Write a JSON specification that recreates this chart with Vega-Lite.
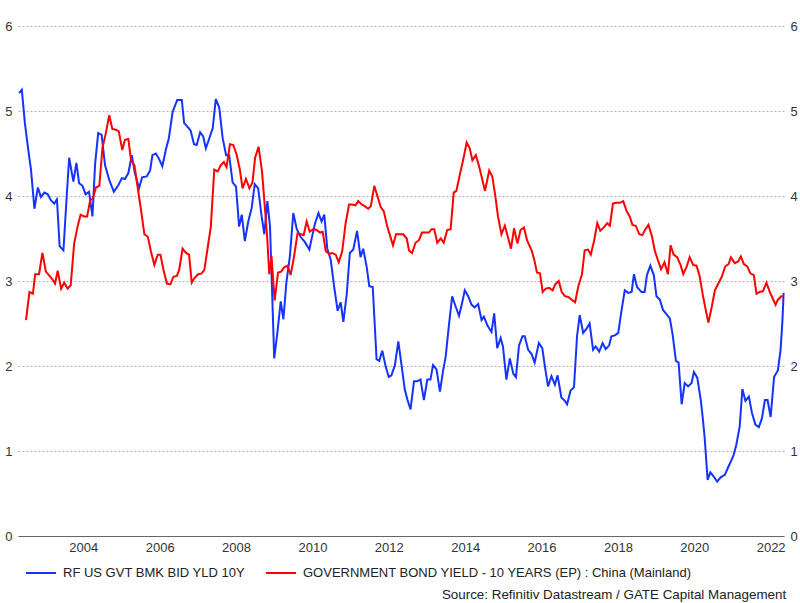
{
  "$schema": "https://vega.github.io/schema/vega-lite/v6.json",
  "width": 766,
  "height": 510,
  "autosize": {"type": "none"},
  "padding": {"left": 18, "top": 26, "right": 16, "bottom": 67},
  "background": "white",
  "config": {
    "view": {"stroke": null},
    "font": "Liberation Sans",
    "axis": {"labelFont": "Liberation Sans", "labelFontSize": 13, "labelColor": "#333333", "ticks": false, "title": null}
  },
  "title": {"text": "Source: Refinitiv Datastream / GATE Capital Management", "orient": "bottom", "anchor": "end", "fontSize": 13.4, "fontWeight": "normal", "color": "#222222", "font": "Liberation Sans", "offset": 8, "dx": -11},
  "datasets": {
    "us": [
      {"t":2002.32,"v":5.21},{"t":2002.39,"v":5.25},{"t":2002.47,"v":4.86},{"t":2002.56,"v":4.54},{"t":2002.63,"v":4.31},{"t":2002.72,"v":3.85},{"t":2002.81,"v":4.10},{"t":2002.89,"v":3.99},{"t":2002.98,"v":4.04},{"t":2003.07,"v":4.02},{"t":2003.15,"v":3.95},{"t":2003.24,"v":3.91},{"t":2003.31,"v":3.96},{"t":2003.38,"v":3.41},{"t":2003.48,"v":3.36},{"t":2003.57,"v":4.03},{"t":2003.63,"v":4.45},{"t":2003.74,"v":4.17},{"t":2003.82,"v":4.39},{"t":2003.89,"v":4.15},{"t":2003.98,"v":4.12},
      {"t":2004.06,"v":4.02},{"t":2004.15,"v":4.05},{"t":2004.24,"v":3.76},{"t":2004.31,"v":4.38},{"t":2004.39,"v":4.74},{"t":2004.48,"v":4.72},{"t":2004.57,"v":4.36},{"t":2004.68,"v":4.19},{"t":2004.80,"v":4.05},{"t":2004.92,"v":4.13},
      {"t":2005.01,"v":4.21},{"t":2005.09,"v":4.20},{"t":2005.18,"v":4.27},{"t":2005.27,"v":4.48},{"t":2005.35,"v":4.27},{"t":2005.46,"v":4.09},{"t":2005.54,"v":4.22},{"t":2005.66,"v":4.23},{"t":2005.75,"v":4.30},{"t":2005.81,"v":4.48},{"t":2005.90,"v":4.50},{"t":2005.98,"v":4.44},
      {"t":2006.07,"v":4.35},{"t":2006.16,"v":4.54},{"t":2006.24,"v":4.68},{"t":2006.34,"v":4.99},{"t":2006.46,"v":5.13},{"t":2006.58,"v":5.13},{"t":2006.64,"v":4.86},{"t":2006.72,"v":4.82},{"t":2006.81,"v":4.77},{"t":2006.90,"v":4.61},{"t":2006.97,"v":4.60},
      {"t":2007.06,"v":4.75},{"t":2007.14,"v":4.70},{"t":2007.21,"v":4.56},{"t":2007.30,"v":4.68},{"t":2007.39,"v":4.80},{"t":2007.47,"v":5.14},{"t":2007.56,"v":5.04},{"t":2007.65,"v":4.68},{"t":2007.74,"v":4.48},{"t":2007.82,"v":4.48},{"t":2007.91,"v":4.16},{"t":2008.00,"v":4.11},
      {"t":2008.08,"v":3.64},{"t":2008.15,"v":3.78},{"t":2008.23,"v":3.47},{"t":2008.32,"v":3.70},{"t":2008.41,"v":3.86},{"t":2008.49,"v":4.14},{"t":2008.58,"v":4.09},{"t":2008.67,"v":3.76},{"t":2008.74,"v":3.55},{"t":2008.82,"v":3.94},{"t":2008.89,"v":3.64},
      {"t":2009.00,"v":2.09},{"t":2009.08,"v":2.38},{"t":2009.17,"v":2.76},{"t":2009.24,"v":2.55},{"t":2009.32,"v":2.99},{"t":2009.41,"v":3.29},{"t":2009.50,"v":3.80},{"t":2009.59,"v":3.61},{"t":2009.69,"v":3.52},{"t":2009.80,"v":3.46},{"t":2009.92,"v":3.37},
      {"t":2010.01,"v":3.56},{"t":2010.07,"v":3.68},{"t":2010.16,"v":3.80},{"t":2010.24,"v":3.70},{"t":2010.31,"v":3.78},{"t":2010.39,"v":3.38},{"t":2010.48,"v":3.25},{"t":2010.57,"v":2.93},{"t":2010.66,"v":2.65},{"t":2010.74,"v":2.75},{"t":2010.81,"v":2.52},{"t":2010.90,"v":2.85},{"t":2010.98,"v":3.33},
      {"t":2011.07,"v":3.37},{"t":2011.17,"v":3.59},{"t":2011.26,"v":3.28},{"t":2011.33,"v":3.38},{"t":2011.42,"v":3.17},{"t":2011.49,"v":2.94},{"t":2011.58,"v":2.93},{"t":2011.68,"v":2.08},{"t":2011.75,"v":2.06},{"t":2011.83,"v":2.18},{"t":2011.92,"v":1.99},
      {"t":2012.00,"v":1.87},{"t":2012.07,"v":1.89},{"t":2012.16,"v":2.01},{"t":2012.25,"v":2.29},{"t":2012.34,"v":1.99},{"t":2012.42,"v":1.72},{"t":2012.49,"v":1.60},{"t":2012.57,"v":1.49},{"t":2012.66,"v":1.82},{"t":2012.74,"v":1.82},{"t":2012.83,"v":1.84},{"t":2012.92,"v":1.60},
      {"t":2013.01,"v":1.84},{"t":2013.09,"v":1.84},{"t":2013.16,"v":2.01},{"t":2013.25,"v":1.96},{"t":2013.34,"v":1.70},{"t":2013.42,"v":1.94},{"t":2013.49,"v":2.11},{"t":2013.57,"v":2.46},{"t":2013.66,"v":2.82},{"t":2013.75,"v":2.70},{"t":2013.84,"v":2.59},{"t":2013.92,"v":2.74},{"t":2013.99,"v":2.89},
      {"t":2014.08,"v":2.82},{"t":2014.17,"v":2.72},{"t":2014.25,"v":2.69},{"t":2014.34,"v":2.73},{"t":2014.43,"v":2.54},{"t":2014.49,"v":2.58},{"t":2014.58,"v":2.48},{"t":2014.69,"v":2.40},{"t":2014.76,"v":2.62},{"t":2014.84,"v":2.21},{"t":2014.93,"v":2.33},{"t":2014.99,"v":2.23},
      {"t":2015.08,"v":1.84},{"t":2015.17,"v":2.09},{"t":2015.26,"v":1.91},{"t":2015.33,"v":1.87},{"t":2015.41,"v":2.24},{"t":2015.50,"v":2.35},{"t":2015.56,"v":2.35},{"t":2015.65,"v":2.19},{"t":2015.74,"v":2.14},{"t":2015.82,"v":2.04},{"t":2015.93,"v":2.27},
      {"t":2016.02,"v":2.21},{"t":2016.09,"v":1.99},{"t":2016.17,"v":1.76},{"t":2016.26,"v":1.88},{"t":2016.35,"v":1.78},{"t":2016.42,"v":1.89},{"t":2016.52,"v":1.63},{"t":2016.61,"v":1.59},{"t":2016.67,"v":1.55},{"t":2016.76,"v":1.71},{"t":2016.85,"v":1.75},{"t":2016.93,"v":2.35},
      {"t":2017.00,"v":2.60},{"t":2017.09,"v":2.39},{"t":2017.18,"v":2.44},{"t":2017.26,"v":2.50},{"t":2017.35,"v":2.19},{"t":2017.42,"v":2.23},{"t":2017.51,"v":2.17},{"t":2017.60,"v":2.27},{"t":2017.68,"v":2.20},{"t":2017.77,"v":2.24},{"t":2017.83,"v":2.35},{"t":2017.92,"v":2.36},
      {"t":2018.01,"v":2.39},{"t":2018.09,"v":2.64},{"t":2018.18,"v":2.89},{"t":2018.27,"v":2.86},{"t":2018.36,"v":2.87},{"t":2018.42,"v":3.08},{"t":2018.50,"v":2.93},{"t":2018.62,"v":2.87},{"t":2018.70,"v":2.87},{"t":2018.76,"v":3.07},{"t":2018.85,"v":3.18},{"t":2018.94,"v":3.07},
      {"t":2019.01,"v":2.82},{"t":2019.10,"v":2.78},{"t":2019.18,"v":2.66},{"t":2019.27,"v":2.61},{"t":2019.36,"v":2.56},{"t":2019.43,"v":2.38},{"t":2019.52,"v":2.06},{"t":2019.59,"v":2.04},{"t":2019.67,"v":1.55},{"t":2019.75,"v":1.80},{"t":2019.84,"v":1.76},{"t":2019.93,"v":1.80},{"t":2019.99,"v":1.93},
      {"t":2020.08,"v":1.86},{"t":2020.17,"v":1.60},{"t":2020.22,"v":1.40},{"t":2020.27,"v":1.17},{"t":2020.35,"v":0.66},{"t":2020.42,"v":0.75},{"t":2020.51,"v":0.70},{"t":2020.60,"v":0.64},{"t":2020.69,"v":0.69},{"t":2020.80,"v":0.72},{"t":2020.88,"v":0.80},{"t":2020.97,"v":0.89},
      {"t":2021.03,"v":0.95},{"t":2021.10,"v":1.07},{"t":2021.19,"v":1.29},{"t":2021.26,"v":1.73},{"t":2021.34,"v":1.59},{"t":2021.43,"v":1.64},{"t":2021.51,"v":1.45},{"t":2021.60,"v":1.31},{"t":2021.69,"v":1.28},{"t":2021.77,"v":1.38},{"t":2021.85,"v":1.60},{"t":2021.92,"v":1.60},
      {"t":2022.00,"v":1.40},{"t":2022.09,"v":1.87},{"t":2022.19,"v":1.95},{"t":2022.26,"v":2.19},{"t":2022.31,"v":2.54},{"t":2022.34,"v":2.86}
    ],
    "cn": [
      {"t":2002.50,"v":2.54},{"t":2002.59,"v":2.87},{"t":2002.68,"v":2.85},{"t":2002.74,"v":3.08},{"t":2002.84,"v":3.08},{"t":2002.93,"v":3.33},{"t":2003.02,"v":3.11},{"t":2003.10,"v":3.07},{"t":2003.19,"v":3.02},{"t":2003.26,"v":2.97},{"t":2003.33,"v":3.12},{"t":2003.42,"v":2.91},{"t":2003.50,"v":2.98},{"t":2003.59,"v":2.91},{"t":2003.67,"v":2.95},{"t":2003.76,"v":3.44},{"t":2003.85,"v":3.64},{"t":2003.93,"v":3.78},
      {"t":2004.02,"v":3.76},{"t":2004.10,"v":3.76},{"t":2004.18,"v":3.95},{"t":2004.25,"v":3.97},{"t":2004.33,"v":4.10},{"t":2004.42,"v":4.12},{"t":2004.50,"v":4.56},{"t":2004.59,"v":4.74},{"t":2004.68,"v":4.95},{"t":2004.76,"v":4.79},{"t":2004.85,"v":4.78},{"t":2004.93,"v":4.76},
      {"t":2005.02,"v":4.54},{"t":2005.09,"v":4.66},{"t":2005.18,"v":4.67},{"t":2005.25,"v":4.42},{"t":2005.34,"v":4.36},{"t":2005.42,"v":4.11},{"t":2005.51,"v":3.84},{"t":2005.60,"v":3.55},{"t":2005.69,"v":3.52},{"t":2005.77,"v":3.35},{"t":2005.86,"v":3.19},{"t":2005.95,"v":3.31},
      {"t":2006.02,"v":3.31},{"t":2006.10,"v":3.13},{"t":2006.19,"v":2.97},{"t":2006.28,"v":2.96},{"t":2006.36,"v":3.05},{"t":2006.45,"v":3.06},{"t":2006.51,"v":3.13},{"t":2006.60,"v":3.38},{"t":2006.69,"v":3.33},{"t":2006.77,"v":3.31},{"t":2006.84,"v":2.98},{"t":2006.92,"v":3.04},
      {"t":2007.01,"v":3.08},{"t":2007.10,"v":3.09},{"t":2007.17,"v":3.13},{"t":2007.26,"v":3.40},{"t":2007.34,"v":3.64},{"t":2007.43,"v":4.31},{"t":2007.52,"v":4.29},{"t":2007.60,"v":4.36},{"t":2007.68,"v":4.40},{"t":2007.75,"v":4.34},{"t":2007.84,"v":4.61},{"t":2007.93,"v":4.60},
      {"t":2008.02,"v":4.48},{"t":2008.10,"v":4.31},{"t":2008.17,"v":4.09},{"t":2008.26,"v":4.20},{"t":2008.35,"v":4.09},{"t":2008.43,"v":4.16},{"t":2008.50,"v":4.45},{"t":2008.59,"v":4.58},{"t":2008.68,"v":4.29},{"t":2008.76,"v":3.84},{"t":2008.82,"v":3.48},{"t":2008.87,"v":3.08},{"t":2008.93,"v":3.29},
      {"t":2009.01,"v":2.77},{"t":2009.10,"v":3.10},{"t":2009.18,"v":3.11},{"t":2009.26,"v":3.16},{"t":2009.35,"v":3.18},{"t":2009.43,"v":3.07},{"t":2009.52,"v":3.29},{"t":2009.61,"v":3.56},{"t":2009.70,"v":3.55},{"t":2009.77,"v":3.54},{"t":2009.85,"v":3.70},{"t":2009.93,"v":3.58},
      {"t":2010.02,"v":3.61},{"t":2010.11,"v":3.60},{"t":2010.20,"v":3.57},{"t":2010.27,"v":3.58},{"t":2010.35,"v":3.35},{"t":2010.44,"v":3.32},{"t":2010.52,"v":3.33},{"t":2010.61,"v":3.31},{"t":2010.69,"v":3.22},{"t":2010.78,"v":3.35},{"t":2010.87,"v":3.68},{"t":2010.96,"v":3.90},
      {"t":2011.04,"v":3.90},{"t":2011.13,"v":3.89},{"t":2011.20,"v":3.94},{"t":2011.29,"v":3.90},{"t":2011.37,"v":3.88},{"t":2011.46,"v":3.85},{"t":2011.53,"v":3.88},{"t":2011.62,"v":4.12},{"t":2011.70,"v":4.00},{"t":2011.79,"v":3.87},{"t":2011.87,"v":3.82},{"t":2011.96,"v":3.64},
      {"t":2012.03,"v":3.54},{"t":2012.11,"v":3.42},{"t":2012.19,"v":3.55},{"t":2012.29,"v":3.55},{"t":2012.38,"v":3.55},{"t":2012.47,"v":3.50},{"t":2012.53,"v":3.36},{"t":2012.61,"v":3.33},{"t":2012.70,"v":3.45},{"t":2012.79,"v":3.48},{"t":2012.87,"v":3.57},{"t":2012.96,"v":3.57},
      {"t":2013.05,"v":3.57},{"t":2013.12,"v":3.61},{"t":2013.19,"v":3.61},{"t":2013.27,"v":3.45},{"t":2013.36,"v":3.50},{"t":2013.44,"v":3.45},{"t":2013.53,"v":3.60},{"t":2013.62,"v":3.61},{"t":2013.70,"v":4.04},{"t":2013.77,"v":4.06},{"t":2013.86,"v":4.25},{"t":2013.95,"v":4.43},
      {"t":2014.04,"v":4.63},{"t":2014.12,"v":4.56},{"t":2014.19,"v":4.42},{"t":2014.28,"v":4.48},{"t":2014.37,"v":4.34},{"t":2014.52,"v":4.06},{"t":2014.63,"v":4.30},{"t":2014.71,"v":4.23},{"t":2014.78,"v":4.03},{"t":2014.86,"v":3.76},{"t":2014.95,"v":3.55},
      {"t":2015.04,"v":3.65},{"t":2015.13,"v":3.50},{"t":2015.20,"v":3.38},{"t":2015.28,"v":3.62},{"t":2015.37,"v":3.44},{"t":2015.45,"v":3.60},{"t":2015.54,"v":3.63},{"t":2015.62,"v":3.48},{"t":2015.74,"v":3.36},{"t":2015.81,"v":3.25},{"t":2015.88,"v":3.10},{"t":2015.96,"v":3.09},
      {"t":2016.03,"v":2.87},{"t":2016.11,"v":2.91},{"t":2016.20,"v":2.92},{"t":2016.29,"v":2.89},{"t":2016.36,"v":2.96},{"t":2016.45,"v":3.00},{"t":2016.53,"v":2.87},{"t":2016.62,"v":2.82},{"t":2016.71,"v":2.81},{"t":2016.79,"v":2.78},{"t":2016.88,"v":2.75},{"t":2016.97,"v":2.95},
      {"t":2017.06,"v":3.08},{"t":2017.13,"v":3.36},{"t":2017.22,"v":3.37},{"t":2017.29,"v":3.31},{"t":2017.38,"v":3.48},{"t":2017.46,"v":3.68},{"t":2017.54,"v":3.59},{"t":2017.63,"v":3.63},{"t":2017.72,"v":3.68},{"t":2017.79,"v":3.65},{"t":2017.87,"v":3.91},{"t":2017.96,"v":3.92},
      {"t":2018.05,"v":3.92},{"t":2018.14,"v":3.94},{"t":2018.23,"v":3.82},{"t":2018.31,"v":3.76},{"t":2018.38,"v":3.66},{"t":2018.47,"v":3.65},{"t":2018.56,"v":3.55},{"t":2018.64,"v":3.54},{"t":2018.71,"v":3.60},{"t":2018.80,"v":3.66},{"t":2018.89,"v":3.53},{"t":2018.97,"v":3.35},
      {"t":2019.06,"v":3.23},{"t":2019.13,"v":3.14},{"t":2019.22,"v":3.22},{"t":2019.31,"v":3.08},{"t":2019.38,"v":3.42},{"t":2019.46,"v":3.31},{"t":2019.55,"v":3.28},{"t":2019.64,"v":3.19},{"t":2019.71,"v":3.08},{"t":2019.80,"v":3.17},{"t":2019.88,"v":3.28},{"t":2019.97,"v":3.19},
      {"t":2020.06,"v":3.18},{"t":2020.14,"v":3.06},{"t":2020.23,"v":2.82},{"t":2020.30,"v":2.66},{"t":2020.37,"v":2.51},{"t":2020.46,"v":2.70},{"t":2020.54,"v":2.89},{"t":2020.63,"v":2.97},{"t":2020.72,"v":3.05},{"t":2020.81,"v":3.17},{"t":2020.90,"v":3.20},{"t":2020.96,"v":3.28},
      {"t":2021.06,"v":3.21},{"t":2021.15,"v":3.23},{"t":2021.22,"v":3.29},{"t":2021.30,"v":3.20},{"t":2021.39,"v":3.17},{"t":2021.47,"v":3.09},{"t":2021.56,"v":3.07},{"t":2021.63,"v":2.85},{"t":2021.71,"v":2.87},{"t":2021.80,"v":2.88},{"t":2021.89,"v":2.98},{"t":2021.98,"v":2.87},
      {"t":2022.05,"v":2.80},{"t":2022.13,"v":2.72},{"t":2022.19,"v":2.78},{"t":2022.28,"v":2.82},{"t":2022.32,"v":2.82}
    ]
  },
  "encoding": {
    "x": {
      "field": "t", "type": "quantitative",
      "scale": {"domain": [2002.29, 2022.35], "nice": false, "zero": false},
      "axis": {"values": [2004, 2006, 2008, 2010, 2012, 2014, 2016, 2018, 2020, 2022], "format": "d", "grid": false, "domain": true, "domainColor": "#666666", "domainWidth": 1, "labelPadding": 5, "labelFlush": false}
    }
  },
  "layer": [
    {
      "data": {"name": "us"},
      "mark": {"type": "line", "strokeWidth": 2, "interpolate": "linear"},
      "encoding": {
        "y": {"field": "v", "type": "quantitative", "scale": {"domain": [0, 6], "nice": false},
          "axis": {"orient": "left", "values": [0, 1, 2, 3, 4, 5, 6], "grid": true, "gridColor": "#b0b0b0", "gridDash": [2, 2], "gridWidth": 1, "domain": false, "labelPadding": 6}},
        "color": {"datum": "RF US GVT BMK BID YLD 10Y", "type": "nominal",
          "scale": {"domain": ["RF US GVT BMK BID YLD 10Y", "GOVERNMENT BOND YIELD - 10 YEARS (EP) : China (Mainland)"], "range": ["#1533ff", "#ff0000"]},
          "legend": {"title": null, "orient": "none", "legendX": 7, "legendY": 531, "direction": "horizontal", "symbolType": "stroke", "symbolSize": 900, "symbolStrokeWidth": 2, "labelFontSize": 13, "labelFont": "Liberation Sans", "labelColor": "#222222", "labelOffset": 6, "columnPadding": 16, "labelLimit": 500}}
      }
    },
    {
      "data": {"name": "cn"},
      "mark": {"type": "line", "strokeWidth": 2, "interpolate": "linear"},
      "encoding": {
        "y": {"field": "v", "type": "quantitative", "scale": {"domain": [0, 6], "nice": false},
          "axis": {"orient": "right", "values": [0, 1, 2, 3, 4, 5, 6], "grid": false, "domain": false, "labelPadding": 6}},
        "color": {"datum": "GOVERNMENT BOND YIELD - 10 YEARS (EP) : China (Mainland)", "type": "nominal"}
      }
    }
  ],
  "resolve": {"axis": {"y": "independent"}}
}
